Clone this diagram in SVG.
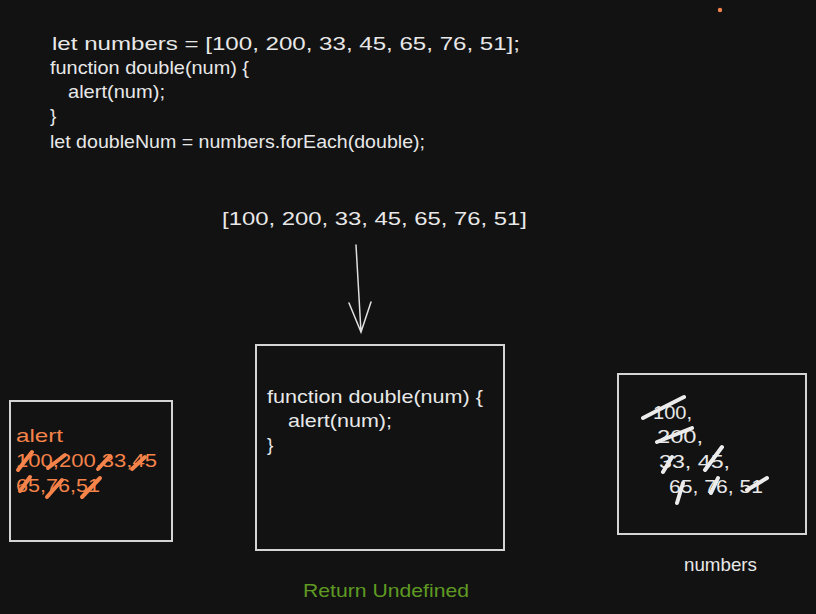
<svg xmlns="http://www.w3.org/2000/svg" width="816" height="614" viewBox="0 0 816 614">
<style>
.t{font-family:"Liberation Sans","Noto Sans",sans-serif;font-size:19px;fill:#e8e8e8}
.o{fill:#f5834a}
.g{fill:#5f9a22}
.box{fill:none;stroke:#d4d4d4;stroke-width:2}
.so{fill:none;stroke:#f5834a;stroke-width:4;stroke-linecap:round}
.sw{fill:none;stroke:#ececec;stroke-width:4;stroke-linecap:round}
.ln{fill:none;stroke:#e0e0e0;stroke-width:1.5;stroke-linecap:round}
</style>
<rect width="816" height="614" fill="#121212"/>
<circle cx="720" cy="10" r="2.2" fill="#f5834a"/>
<g id="code">
<text class="t" x="52" y="50" textLength="468" lengthAdjust="spacingAndGlyphs">let numbers = [100, 200, 33, 45, 65, 76, 51];</text>
<text class="t" x="50" y="74" textLength="199" lengthAdjust="spacingAndGlyphs">function double(num) {</text>
<text class="t" x="68" y="98" textLength="97" lengthAdjust="spacingAndGlyphs">alert(num);</text>
<text class="t" x="50" y="122">}</text>
<text class="t" x="50" y="148" textLength="375" lengthAdjust="spacingAndGlyphs">let doubleNum = numbers.forEach(double);</text>
</g>
<g id="array">
<text class="t" x="222" y="225" textLength="305" lengthAdjust="spacingAndGlyphs">[100, 200, 33, 45, 65, 76, 51]</text>
</g>
<g id="connectors">
<path class="ln" d="M356 245 L361 332 M349 303 L361 332 L371 302"/>
</g>
<g id="alertBox">
<rect class="box" x="10" y="401" width="162" height="140"/>
<text class="t o" x="16" y="442" textLength="47" lengthAdjust="spacingAndGlyphs">alert</text>
<text class="t o" x="16" y="467" textLength="141" lengthAdjust="spacingAndGlyphs">100,200,33,45</text>
<text class="t o" x="16" y="492" textLength="84" lengthAdjust="spacingAndGlyphs">65,76,51</text>
<path class="so" d="M18 470 L32 452 M48 468 L65 455 M98 469 L110 456 M132 469 L145 457 M20 491 L30 477 M47 497 L62 480 M82 497 L100 478"/>
</g>
<g id="functionBox">
<rect class="box" x="256" y="345" width="248" height="205"/>
<text class="t" x="267" y="403" textLength="216" lengthAdjust="spacingAndGlyphs">function double(num) {</text>
<text class="t" x="288" y="427" textLength="104" lengthAdjust="spacingAndGlyphs">alert(num);</text>
<text class="t" x="267" y="451">}</text>
</g>
<g id="numbersBox">
<rect class="box" x="618" y="374" width="188" height="160"/>
<text class="t" x="653" y="419" textLength="39" lengthAdjust="spacingAndGlyphs">100,</text>
<text class="t" x="657" y="443" textLength="46" lengthAdjust="spacingAndGlyphs">200,</text>
<text class="t" x="659" y="468" textLength="71" lengthAdjust="spacingAndGlyphs">33, 45,</text>
<text class="t" x="669" y="493" textLength="94" lengthAdjust="spacingAndGlyphs">65, 76, 51</text>
<path class="sw" d="M643 418 Q662 408 684 397 M657 442 L692 428 M663 472 L672 457 M705 470 L722 447 M677 503 L683 483 M711 493 L718 478 M747 490 L767 478"/>
</g>
<g id="numbersLabel">
<text class="t" x="684" y="571" textLength="73" lengthAdjust="spacingAndGlyphs">numbers</text>
</g>
<g id="returnLabel">
<text class="t g" x="303" y="597" textLength="166" lengthAdjust="spacingAndGlyphs">Return Undefined</text>
</g>
</svg>
